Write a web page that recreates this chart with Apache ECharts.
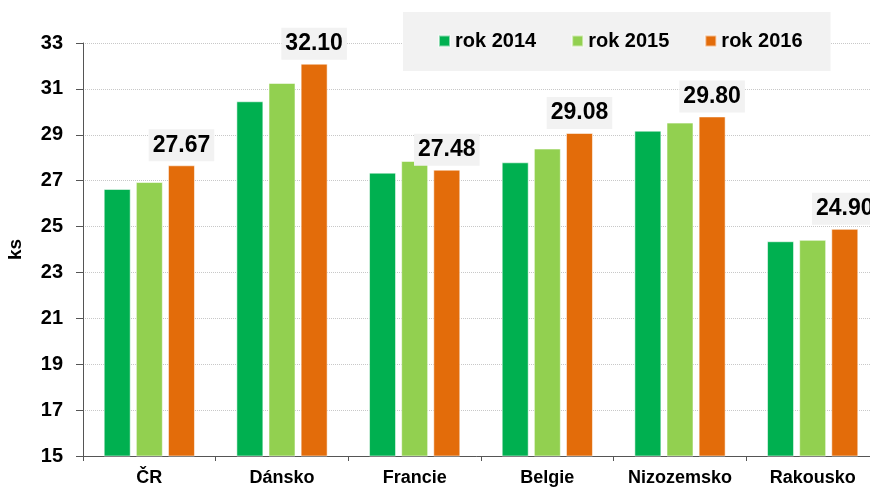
<!DOCTYPE html>
<html>
<head>
<meta charset="utf-8">
<script src="https://cdn.jsdelivr.net/npm/echarts@6/dist/echarts.min.js"></script>
<style>
  html, body { margin: 0; padding: 0; background: #fff; }
  #chart { width: 870px; height: 487px; }
</style>
</head>
<body>
<div id="chart"></div>
<script>
const categories = ['ČR', 'Dánsko', 'Francie', 'Belgie', 'Nizozemsko', 'Rakousko']
const seriesNames = ['rok 2014', 'rok 2015', 'rok 2016']
const rok2014 = [26.64, 30.46, 27.35, 27.80, 29.18, 24.36]
const rok2015 = [26.94, 31.26, 27.86, 28.40, 29.53, 24.42]
const rok2016 = [27.67, 32.10, 27.48, 29.08, 29.80, 24.90]

const colors = ['#00b050', '#92d050', '#e36c0a']
const font = '"Liberation Sans", Arial, sans-serif'

const myChart = echarts.init(document.getElementById('chart'))

const barBase = {
  type: 'bar',
  barWidth: 27,
  barGap: '19%',
  itemStyle: { borderColor: 'rgba(255,255,255,0.55)', borderWidth: 1 }
}

const option = {
  animation: false,
  color: colors,
  textStyle: { fontFamily: font },
  legend: {
    data: seriesNames,
    left: 403,
    top: 12,
    width: 436,
    padding: [19, 28, 20, 35],
    backgroundColor: '#f2f2f2',
    itemWidth: 11,
    itemHeight: 11,
    itemGap: 35,
    icon: 'rect',
    textStyle: { fontSize: 20, fontWeight: 'bold', color: '#000', fontFamily: font, lineHeight: 20 }
  },
  grid: {
    left: 83,
    top: 43,
    width: 796,
    bottom: 31,
    containLabel: false,
    outerBoundsMode: 'none'
  },
  xAxis: {
    type: 'category',
    data: categories,
    axisLine: { lineStyle: { color: '#555', width: 1 } },
    axisTick: { show: true, length: 5, lineStyle: { color: '#555' } },
    axisLabel: { interval: 0, color: '#000', fontSize: 18, fontWeight: 'bold', margin: 13, fontFamily: font }
  },
  yAxis: {
    type: 'value',
    min: 15,
    max: 33,
    interval: 2,
    name: 'ks',
    nameLocation: 'middle',
    nameGap: 58,
    nameRotate: 90,
    nameTextStyle: { color: '#000', fontSize: 19, fontWeight: 'bold', fontFamily: font },
    axisLine: { show: true, lineStyle: { color: '#555', width: 1 } },
    axisTick: { show: true, length: 7, lineStyle: { color: '#555' } },
    axisLabel: { color: '#000', fontSize: 20, fontWeight: 'bold', margin: 20, fontFamily: font },
    splitLine: { lineStyle: { color: '#c8c8c8', type: 'dotted', width: 1 } }
  },
  series: [
    { ...barBase, name: seriesNames[0], data: rok2014 },
    { ...barBase, name: seriesNames[1], data: rok2015 },
    {
      ...barBase,
      name: seriesNames[2],
      data: rok2016,
      label: {
        show: true,
        position: 'top',
        distance: 4,
        formatter: (p) => p.value.toFixed(2),
        color: '#000',
        fontSize: 23,
        fontWeight: 'bold',
        fontFamily: font,
        backgroundColor: '#f2f2f2',
        padding: [3, 4, 3, 4],
        lineHeight: 26
      }
    }
  ]
}

option && myChart.setOption(option)
</script>
</body>
</html>
